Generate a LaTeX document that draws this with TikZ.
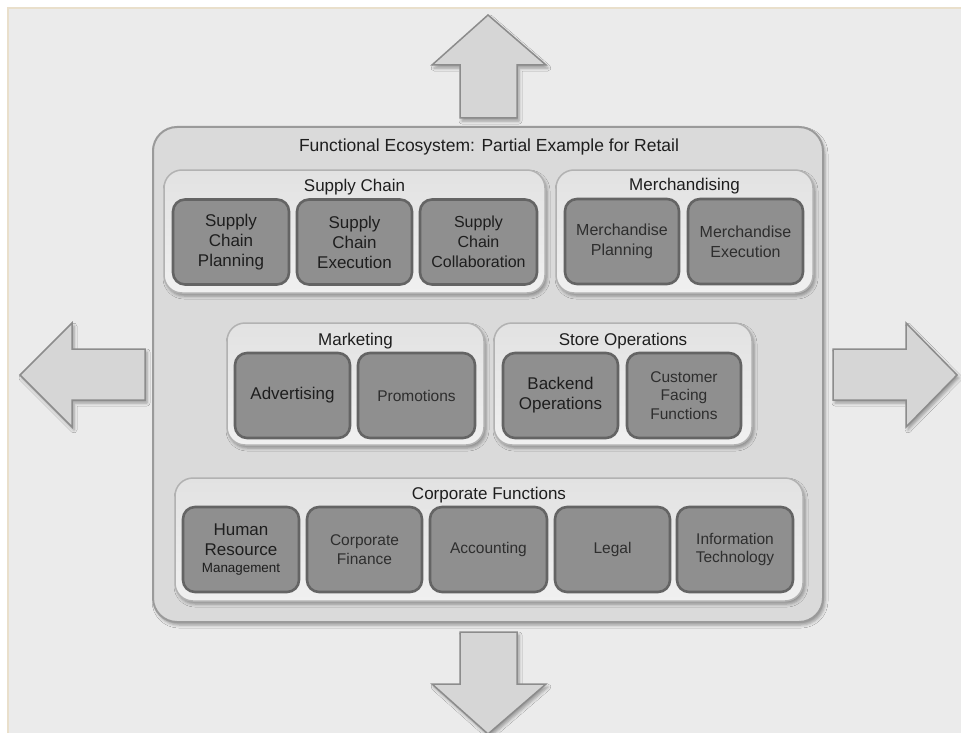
\documentclass[tikz,border=0pt]{standalone}
\usepackage{fontspec}
\setmainfont{Liberation Sans}
\usetikzlibrary{shadows.blur}

\definecolor{bg}{HTML}{EBEBEB}
\definecolor{edgebeige}{HTML}{E9DFCB}
\definecolor{mainfill}{HTML}{DADADA}
\definecolor{mainline}{HTML}{9A9A9A}
\definecolor{grptop}{HTML}{E2E2E2}
\definecolor{grpbottom}{HTML}{F0F0F0}
\definecolor{grpline}{HTML}{B2B2B2}
\definecolor{unitfill}{HTML}{8F8F8F}
\definecolor{unitline}{HTML}{646464}
\definecolor{arrowfill}{HTML}{D6D6D6}
\definecolor{arrowline}{HTML}{8C8C8C}
\definecolor{ink}{HTML}{1E1E1E}
\definecolor{softink}{HTML}{2E2E2E}

\tikzset{
  softshadow/.style={blur shadow={shadow xshift=2pt, shadow yshift=-3pt,
      shadow blur radius=3pt, shadow opacity=35}},
  bigarrow/.style={fill=arrowfill, draw=arrowline, line width=1.5pt,
      line join=miter, softshadow},
  ecobox/.style={draw=mainline, fill=mainfill, line width=2pt,
      rounded corners=24pt, inner sep=0pt, softshadow},
  groupbox/.style={draw=grpline, top color=grptop, bottom color=grpbottom,
      line width=1.5pt, rounded corners=18pt, inner sep=0pt, softshadow},
  unit/.style={draw=unitline, fill=unitfill, line width=2.6pt,
      rounded corners=12pt, inner sep=0pt, align=center, text=ink,
      minimum height=85pt, font=\fontsize{17}{20}\selectfont},
  unitsmall/.style={unit, text=softink, font=\fontsize{15.5}{18.7}\selectfont},
  ecotitle/.style={text=ink, inner sep=0pt, font=\fontsize{17.5}{20}\selectfont},
  grouptitle/.style={text=ink, inner sep=0pt, font=\fontsize{17}{20}\selectfont},
}

\begin{document}
\begin{tikzpicture}[x=1pt, y=-1pt]
  \useasboundingbox (0,0) rectangle (961,733);

  % page background with its thin edge
  \fill[white] (0,0) rectangle (961,733);
  \fill[edgebeige] (7,7) rectangle (961,733);
  \fill[bg] (9,9) rectangle (961,733);

  % four outward arrows
  \draw[bigarrow] (488,15) -- (546,65) -- (517,65) -- (517,118)
      -- (460,118) -- (460,65) -- (432,65) -- cycle;
  \draw[bigarrow] (488,734) -- (546,684) -- (517,684) -- (517,632)
      -- (460,632) -- (460,684) -- (432,684) -- cycle;
  \draw[bigarrow] (20,375) -- (72,323) -- (72,349) -- (145,349)
      -- (145,400) -- (72,400) -- (72,427) -- cycle;
  \draw[bigarrow] (957,375) -- (906,323) -- (906,349) -- (833,349)
      -- (833,400) -- (906,400) -- (906,427) -- cycle;

  % ecosystem frame
  \node[ecobox, minimum width=670pt, minimum height=495pt] (eco) at (488,374.5) {};
  \node[ecotitle] (ecot) at (489,147) {Functional Ecosystem: Partial Example for Retail};

  % groups
  \node[groupbox, minimum width=381pt, minimum height=123pt] (sc) at (354.5,231.5) {};
  \node[grouptitle] (sct) at (354.5,187) {Supply Chain};
  \node[groupbox, minimum width=257pt, minimum height=123pt] (mer) at (684.5,231.5) {};
  \node[grouptitle] (mert) at (684.5,186) {Merchandising};
  \node[groupbox, minimum width=257pt, minimum height=122pt] (mkt) at (355.5,384) {};
  \node[grouptitle] (mktt) at (355.5,341) {Marketing};
  \node[groupbox, minimum width=258pt, minimum height=122pt] (sto) at (623,384) {};
  \node[grouptitle] (stot) at (623,341) {Store Operations};
  \node[groupbox, minimum width=628pt, minimum height=123pt] (corp) at (489,539.5) {};
  \node[grouptitle] (corpt) at (489,495) {Corporate Functions};

  % supply chain units
  \node[unit, minimum width=116pt] (scp) at (231,242) {Supply\\Chain\\Planning};
  \node[unit, minimum width=115pt] (sce) at (354.5,242) {Supply\\Chain\\Execution};
  \node[unit, minimum width=117pt, font=\fontsize{16}{20}\selectfont] (scc) at (478.5,242) {Supply\\Chain\\Collaboration};

  % merchandising units
  \node[unitsmall, minimum width=114pt, font=\fontsize{16}{20}\selectfont] (mp) at (622,241.5) {Merchandise\\Planning};
  \node[unitsmall, minimum width=115pt, font=\fontsize{16}{20}\selectfont] (me) at (745.5,241.5) {Merchandise\\Execution};

  % marketing units
  \node[unit, minimum width=115pt] (adv) at (292.5,395.5) {Advertising};
  \node[unitsmall, minimum width=117pt] (promo) at (416.5,395.5) {Promotions};

  % store operations units
  \node[unit, minimum width=115pt] (back) at (560.5,395.5) {Backend\\Operations};
  \node[unitsmall, minimum width=114pt] (cff) at (684,395.5) {Customer\\Facing\\Functions};

  % corporate units
  \node[unit, minimum width=116pt] (hrm) at (241,549.5)
      {Human\\Resource\\[-3pt]{\fontsize{13.4}{16}\selectfont Management}};
  \node[unitsmall, minimum width=115pt] (cfin) at (364.5,549.5) {Corporate\\Finance};
  \node[unitsmall, minimum width=117pt] (acc) at (488.5,549.5) {Accounting};
  \node[unitsmall, minimum width=115pt] (legal) at (612.5,549.5) {Legal};
  \node[unitsmall, minimum width=116pt] (it) at (735,549.5) {Information\\Technology};
\end{tikzpicture}
\end{document}
